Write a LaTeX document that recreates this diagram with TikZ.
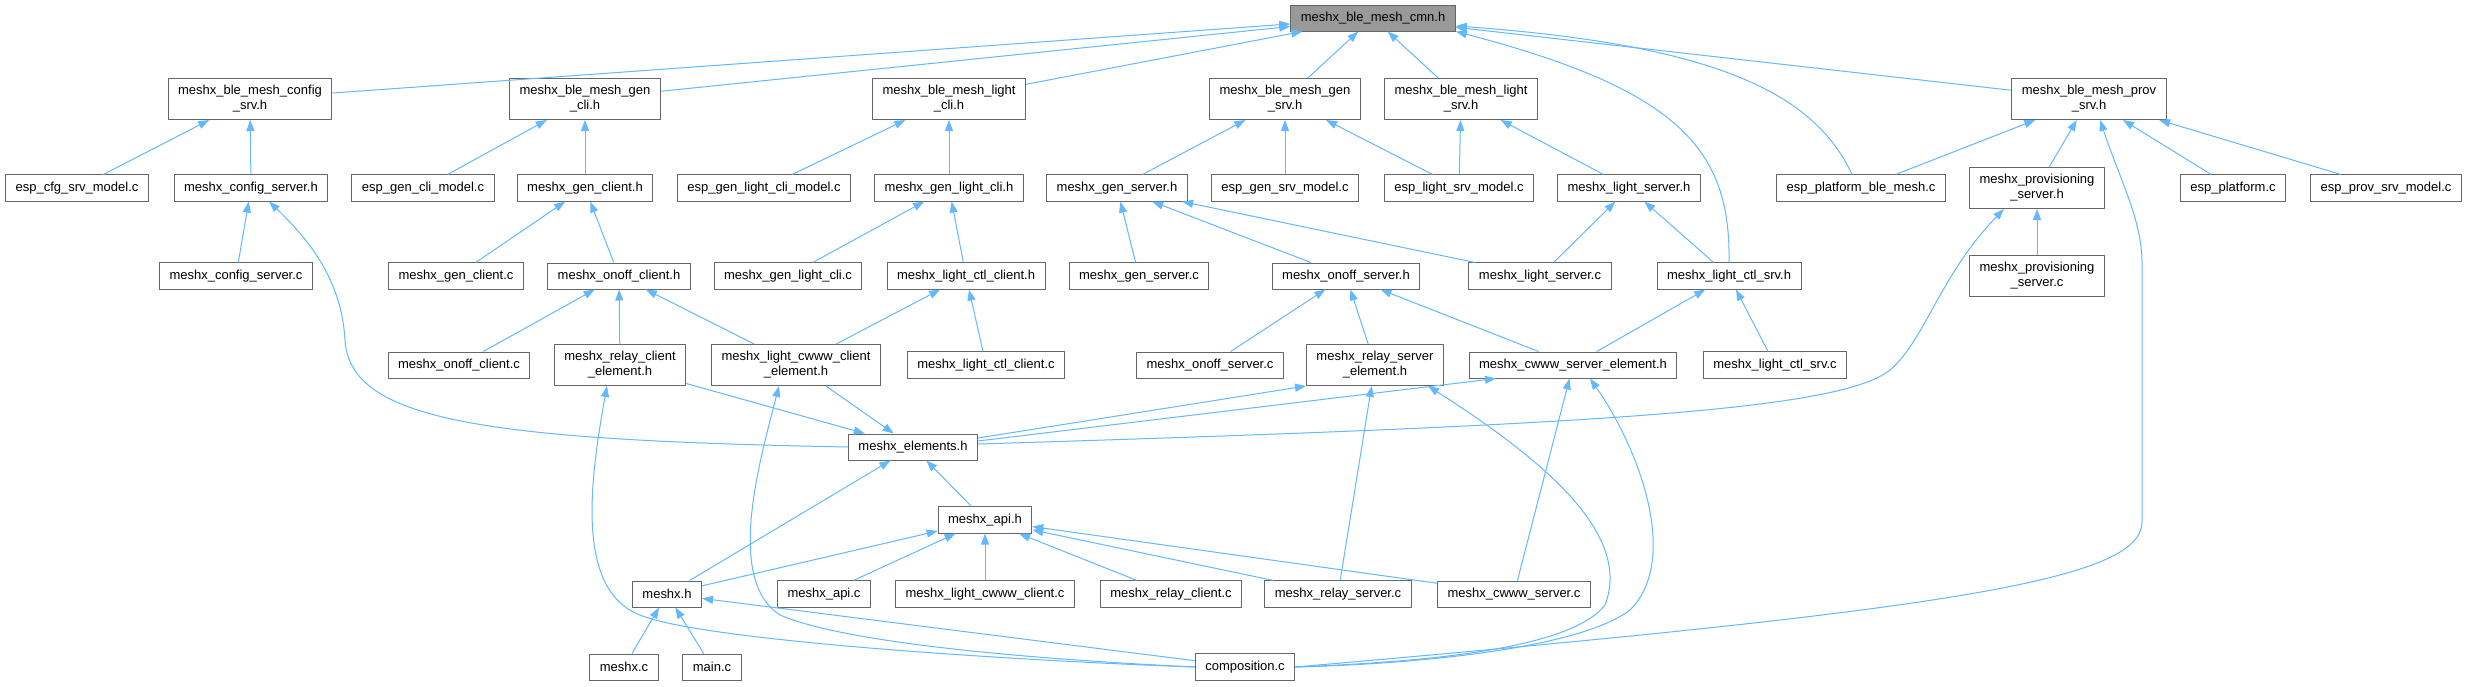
\documentclass[tikz,border=0pt]{standalone}
\usepackage{xcolor}
\usepackage{fontspec}
\setmainfont{Liberation Sans}
\usepackage{tikz}
\usetikzlibrary{arrows.meta,calc}
\definecolor{incEdge}{HTML}{63B8FF}
\definecolor{incBorder}{HTML}{666666}
\definecolor{incRootFill}{HTML}{999999}
\definecolor{incRootLine}{HTML}{666666}
\tikzset{
  filebox/.style={rectangle, draw=incBorder, fill=white, line width=1pt,
    minimum height=26pt, inner xsep=10pt, inner ysep=7pt, align=center,
    font=\fontsize{13pt}{15pt}\selectfont},
  rootbox/.style={filebox, draw=incRootLine, fill=incRootFill},
  inclarrow/.style={-{Triangle[length=11pt,width=8pt]}, draw=incEdge, line width=1pt},
}

\begin{document}
\begin{tikzpicture}[x=1pt,y=-1pt]
  \fill[white] (0,0) rectangle (2468,686);
  \useasboundingbox (0,0) rectangle (2468,686);

  % --- Root ---
  \node[rootbox] (cmn) at (1373,18) {meshx\_ble\_mesh\_cmn.h};

  % --- Model headers ---
  \node[filebox] (cfgsrvh)   at (250,99)  {meshx\_ble\_mesh\_config\\\_srv.h};
  \node[filebox] (genclih)   at (585,99)  {meshx\_ble\_mesh\_gen\\\_cli.h};
  \node[filebox] (lightclih) at (949,99)  {meshx\_ble\_mesh\_light\\\_cli.h};
  \node[filebox] (gensrvh)   at (1285,99) {meshx\_ble\_mesh\_gen\\\_srv.h};
  \node[filebox] (lightsrvh) at (1461,99) {meshx\_ble\_mesh\_light\\\_srv.h};
  \node[filebox] (provsrvh)  at (2089,99) {meshx\_ble\_mesh\_prov\\\_srv.h};

  % --- Third row ---
  \node[filebox] (espcfgmodel)         at (77,188)   {esp\_cfg\_srv\_model.c};
  \node[filebox] (cfgserverh)          at (251,188)  {meshx\_config\_server.h};
  \node[filebox] (espgenclimodel)      at (423,188)  {esp\_gen\_cli\_model.c};
  \node[filebox] (genclienth)          at (585,188)  {meshx\_gen\_client.h};
  \node[filebox] (espgenlightclimodel) at (764,188)  {esp\_gen\_light\_cli\_model.c};
  \node[filebox] (genlightclih)        at (949,188)  {meshx\_gen\_light\_cli.h};
  \node[filebox] (genserverh)          at (1117,188) {meshx\_gen\_server.h};
  \node[filebox] (espgensrvmodel)      at (1285,188) {esp\_gen\_srv\_model.c};
  \node[filebox] (esplightsrvmodel)    at (1459,188) {esp\_light\_srv\_model.c};
  \node[filebox] (lightserverh)        at (1629,188) {meshx\_light\_server.h};
  \node[filebox] (espplatblemesh)      at (1861,188) {esp\_platform\_ble\_mesh.c};
  \node[filebox] (provserverh)         at (2037,188) {meshx\_provisioning\\\_server.h};
  \node[filebox] (espplatform)         at (2233,188) {esp\_platform.c};
  \node[filebox] (espprovmodel)        at (2386,188) {esp\_prov\_srv\_model.c};

  % --- Fourth row ---
  \node[filebox] (cfgserverc)      at (236,276)  {meshx\_config\_server.c};
  \node[filebox] (genclientc)      at (456,276)  {meshx\_gen\_client.c};
  \node[filebox] (onoffclienth)    at (619,276)  {meshx\_onoff\_client.h};
  \node[filebox] (genlightclic)    at (788,276)  {meshx\_gen\_light\_cli.c};
  \node[filebox] (lightctlclienth) at (966,276)  {meshx\_light\_ctl\_client.h};
  \node[filebox] (genserverc)      at (1139,276) {meshx\_gen\_server.c};
  \node[filebox] (onoffserverh)    at (1346,276) {meshx\_onoff\_server.h};
  \node[filebox] (lightserverc)    at (1540,276) {meshx\_light\_server.c};
  \node[filebox] (lightctlsrvh)    at (1729,276) {meshx\_light\_ctl\_srv.h};
  \node[filebox] (provserverc)     at (2037,276) {meshx\_provisioning\\\_server.c};

  % --- Element headers ---
  \node[filebox] (onoffclientc)    at (459,365)  {meshx\_onoff\_client.c};
  \node[filebox] (relayclientelh)  at (620,365)  {meshx\_relay\_client\\\_element.h};
  \node[filebox] (cwwwclientelh)   at (796,365)  {meshx\_light\_cwww\_client\\\_element.h};
  \node[filebox] (lightctlclientc) at (986,365)  {meshx\_light\_ctl\_client.c};
  \node[filebox] (onoffserverc)    at (1210,365) {meshx\_onoff\_server.c};
  \node[filebox] (relayserverelh)  at (1375,365) {meshx\_relay\_server\\\_element.h};
  \node[filebox] (cwwwserverelh)   at (1573,365) {meshx\_cwww\_server\_element.h};
  \node[filebox] (lightctlsrvc)    at (1775,365) {meshx\_light\_ctl\_srv.c};

  % --- Elements, api and sources ---
  \node[filebox] (elements)     at (913,447)  {meshx\_elements.h};
  \node[filebox] (apih)         at (985,520)  {meshx\_api.h};
  \node[filebox] (meshxh)       at (667,594)  {meshx.h};
  \node[filebox] (apic)         at (824,594)  {meshx\_api.c};
  \node[filebox] (cwwwclientc)  at (985,594)  {meshx\_light\_cwww\_client.c};
  \node[filebox] (relayclientc) at (1171,594) {meshx\_relay\_client.c};
  \node[filebox] (relayserverc) at (1338,594) {meshx\_relay\_server.c};
  \node[filebox] (cwwwserverc)  at (1514,594) {meshx\_cwww\_server.c};
  \node[filebox] (meshxc)       at (624,667)  {meshx.c};
  \node[filebox] (mainc)        at (712,667)  {main.c};
  \node[filebox] (composition)  at (1245,667) {composition.c};

  % --- Includes of the root ---
  \draw[inclarrow] (cfgsrvh) -- (cmn);
  \draw[inclarrow] (genclih) -- (cmn);
  \draw[inclarrow] (lightclih) -- (cmn);
  \draw[inclarrow] (gensrvh) -- (cmn);
  \draw[inclarrow] (lightsrvh) -- (cmn);
  \draw[inclarrow] (provsrvh) -- (cmn);
  \draw[inclarrow] ([xshift=-9pt]espplatblemesh.north) .. controls (1815,95) and (1720,45) .. ([yshift=-8pt]cmn.east);
  \draw[inclarrow] (lightctlsrvh.north) .. controls (1731,150) and (1680,90) .. (cmn.south east);

  % --- Config and generic client ---
  \draw[inclarrow] (espcfgmodel) -- (cfgsrvh);
  \draw[inclarrow] (cfgserverh) -- (cfgsrvh);
  \draw[inclarrow] (cfgserverc) -- (cfgserverh);
  \draw[inclarrow] (elements.west) .. controls (480,440) and (350,420) .. (345,340)
    .. controls (342,290) and (320,250) .. ([xshift=18pt]cfgserverh.south);
  \draw[inclarrow] (espgenclimodel) -- (genclih);
  \draw[inclarrow] (genclienth) -- (genclih);
  \draw[inclarrow] (genclientc) -- (genclienth);
  \draw[inclarrow] (onoffclienth) -- (genclienth);
  \draw[inclarrow] (onoffclientc) -- (onoffclienth);
  \draw[inclarrow] (relayclientelh) -- (onoffclienth);
  \draw[inclarrow] (cwwwclientelh) -- (onoffclienth);

  % --- Light client ---
  \draw[inclarrow] (espgenlightclimodel) -- (lightclih);
  \draw[inclarrow] (genlightclih) -- (lightclih);
  \draw[inclarrow] (genlightclic) -- (genlightclih);
  \draw[inclarrow] (lightctlclienth) -- (genlightclih);
  \draw[inclarrow] (cwwwclientelh) -- (lightctlclienth);
  \draw[inclarrow] (lightctlclientc) -- (lightctlclienth);

  % --- Generic and light server ---
  \draw[inclarrow] (genserverh) -- (gensrvh);
  \draw[inclarrow] (espgensrvmodel) -- (gensrvh);
  \draw[inclarrow] (esplightsrvmodel) -- (gensrvh);
  \draw[inclarrow] (genserverc) -- (genserverh);
  \draw[inclarrow] (onoffserverh) -- (genserverh);
  \draw[inclarrow] (lightserverc) -- (genserverh);
  \draw[inclarrow] (esplightsrvmodel) -- (lightsrvh);
  \draw[inclarrow] (lightserverh) -- (lightsrvh);
  \draw[inclarrow] (lightserverc) -- (lightserverh);
  \draw[inclarrow] (lightctlsrvh) -- (lightserverh);
  \draw[inclarrow] (onoffserverc) -- (onoffserverh);
  \draw[inclarrow] (relayserverelh) -- (onoffserverh);
  \draw[inclarrow] (cwwwserverelh) -- (onoffserverh);
  \draw[inclarrow] (cwwwserverelh) -- (lightctlsrvh);
  \draw[inclarrow] (lightctlsrvc) -- (lightctlsrvh);

  % --- Provisioning ---
  \draw[inclarrow] (espplatblemesh) -- (provsrvh);
  \draw[inclarrow] (provserverh) -- (provsrvh);
  \draw[inclarrow] (espplatform) -- (provsrvh);
  \draw[inclarrow] (espprovmodel) -- (provsrvh);
  \draw[inclarrow] (provserverc) -- (provserverh);
  \draw[inclarrow] ([yshift=3pt]elements.east) .. controls (1600,425) and (1840,410) .. (1890,370)
    .. controls (1925,340) and (1940,275) .. ([xshift=-33pt]provserverh.south);

  % --- Elements ---
  \draw[inclarrow] (relayclientelh) -- (elements);
  \draw[inclarrow] (cwwwclientelh) -- (elements);
  \draw[inclarrow] ([yshift=9pt]elements.east) -- (relayserverelh.south west);
  \draw[inclarrow] ([yshift=6pt]elements.east) -- ([xshift=-77pt]cwwwserverelh.south);
  \draw[inclarrow] (relayserverc) -- (relayserverelh);
  \draw[inclarrow] (cwwwserverc) -- (cwwwserverelh);
  \draw[inclarrow] (meshxh) -- (elements);
  \draw[inclarrow] (apih) -- (elements);

  % --- Api and sources ---
  \draw[inclarrow] (meshxh) -- (apih);
  \draw[inclarrow] (apic) -- (apih);
  \draw[inclarrow] (cwwwclientc) -- (apih);
  \draw[inclarrow] (relayclientc) -- (apih);
  \draw[inclarrow] (relayserverc) -- (apih);
  \draw[inclarrow] (cwwwserverc) -- (apih);
  \draw[inclarrow] (meshxc) -- (meshxh);
  \draw[inclarrow] (mainc) -- (meshxh);

  % --- composition.c ---
  \draw[inclarrow] (composition) -- (meshxh);
  \draw[inclarrow] (composition.west) .. controls (1000,660) and (700,640) .. (640,615)
    .. controls (575,590) and (590,480) .. ([xshift=-13pt]relayclientelh.south);
  \draw[inclarrow] (composition.west) .. controls (1050,660) and (850,645) .. (780,615)
    .. controls (725,580) and (760,460) .. ([xshift=-17pt]cwwwclientelh.south);
  \draw[inclarrow] (composition.east) .. controls (1420,662) and (1570,650) .. (1605,605)
    .. controls (1630,540) and (1560,470) .. ([xshift=53pt]relayserverelh.south);
  \draw[inclarrow] (composition.east) .. controls (1420,664) and (1580,648) .. (1630,610)
    .. controls (1680,560) and (1640,450) .. ([xshift=17pt]cwwwserverelh.south);
  \draw[inclarrow] (composition.east) .. controls (1950,610) and (2142,580) .. (2142,522)
    -- (2142,263) .. controls (2142,220) and (2120,180) .. ([xshift=11pt]provsrvh.south);
\end{tikzpicture}
\end{document}
